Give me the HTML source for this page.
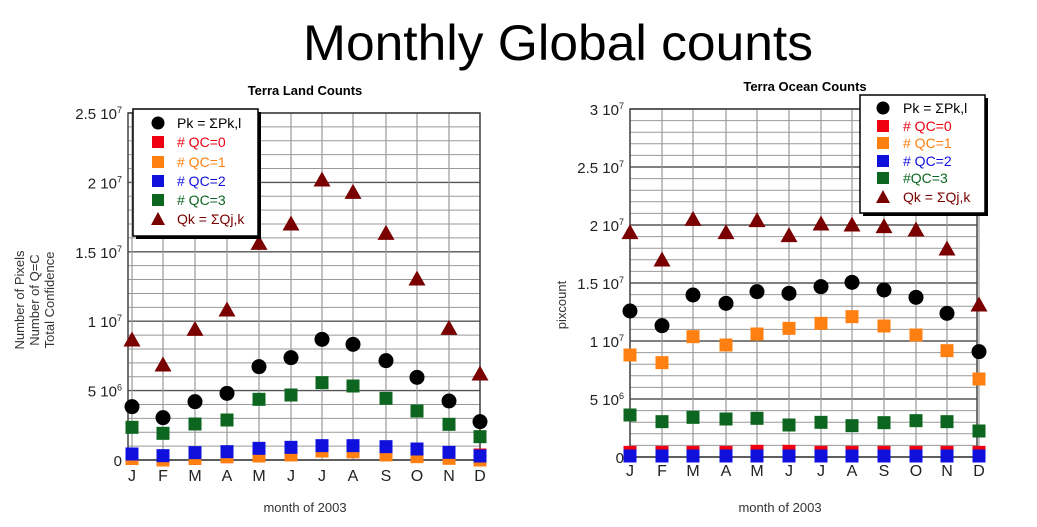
<!DOCTYPE html>
<html><head><meta charset="utf-8"><style>
html,body{margin:0;padding:0;background:#fff;}
svg{display:block;font-family:"Liberation Sans",Arial,sans-serif;}
</style></head><body>
<svg id="s" width="1037" height="527" viewBox="0 0 1037 527" xmlns="http://www.w3.org/2000/svg">
<text x="303" y="60" font-size="50" textLength="510" lengthAdjust="spacingAndGlyphs">Monthly Global counts</text>
<text x="305" y="95" font-size="13" font-weight="bold" text-anchor="middle">Terra Land Counts</text>
<text x="805" y="91" font-size="13" font-weight="bold" text-anchor="middle">Terra Ocean Counts</text>
<text x="305" y="512" font-size="13" text-anchor="middle" fill="#333">month of 2003</text>
<text x="780" y="512" font-size="13" text-anchor="middle" fill="#333">month of 2003</text>
<g font-size="13" fill="#333" text-anchor="middle">
<text transform="translate(24,300) rotate(-90)">Number of Pixels</text>
<text transform="translate(39,300) rotate(-90)">Number of Q=C</text>
<text transform="translate(54,300) rotate(-90)">Total Confidence</text>
<text transform="translate(566,305) rotate(-90)">pixcount</text>
</g>
<g id="L"></g><g id="R"></g>
</svg>
<script>
var NS="http://www.w3.org/2000/svg";
function el(p,t,a,txt){var e=document.createElementNS(NS,t);for(var k in a)e.setAttribute(k,a[k]);if(txt!==undefined)e.textContent=txt;p.appendChild(e);return e;}
var M=["J","F","M","A","M","J","J","A","S","O","N","D"];
function chart(g,c){
 var y0=c.y0,yt=c.yt,n=c.nmaj*5,step=(y0-yt)/n;
 for(var i=0;i<=n;i++){var y=y0-i*step;el(g,"line",{x1:c.x0,x2:c.x1,y1:y,y2:y,stroke:i%5==0?"#555":"#999","stroke-width":i%5==0?1.4:1});}
 for(var i=0;i<12;i++){el(g,"line",{x1:c.mx[i],x2:c.mx[i],y1:yt,y2:y0,stroke:"#999","stroke-width":1.2});
  el(g,"text",{x:c.mx[i],y:c.my,"font-size":16,"text-anchor":"middle",fill:"#222"},M[i]);}
 el(g,"rect",{x:c.x0,y:yt,width:c.x1-c.x0,height:y0-yt,fill:"none",stroke:"#444","stroke-width":1.5});
 for(var i=0;i<c.lab.length;i++){var y=y0-i*5*step;var t=el(g,"text",{x:c.x0-6,y:y+6,"font-size":15,"text-anchor":"end",fill:"#222"});
  var L=c.lab[i];t.textContent=L[0];if(L[1]){var s=el(t,"tspan",{"font-size":9,dy:-6},L[1]);}}
 var z=function(v){return v/3+80;};
 function sq(x,y,col,h){h=h||6.5;el(g,"rect",{x:x-h,y:y-h,width:2*h,height:2*h,fill:col});}
 c.series.forEach(function(s){for(var i=0;i<12;i++){var x=c.mx[i],y=z(s.d[i]);
  if(s.t=="c")el(g,"circle",{cx:x,cy:y,r:7.5,fill:"#000"});
  else if(s.t=="s")sq(x,y,s.c);
  else el(g,"polygon",{points:(x-8.5)+","+(y+6.5)+" "+x+","+(y-8.5)+" "+(x+8.5)+","+(y+6.5),fill:"#7a0000"});}});
 var lg=c.lg;
 el(g,"rect",{x:lg.x+3,y:lg.y+3,width:lg.w,height:lg.h,fill:"#000"});
 el(g,"rect",{x:lg.x,y:lg.y,width:lg.w,height:lg.h,fill:"#fff",stroke:"#000","stroke-width":1.5});
 var items=[["c","#000","Pk = ΣPk,l"],["s","#ee0011","# QC=0"],["s","#ff7f11","# QC=1"],["s","#1010dd","# QC=2"],["s","#0c6620",c.q3],["t","#7a0000","Qk = ΣQj,k"]];
 items.forEach(function(it,i){var y=lg.rows[i],x=lg.mx;
  if(it[0]=="c")el(g,"circle",{cx:x,cy:y,r:6.5,fill:"#000"});else if(it[0]=="s")sq(x,y,it[1],6);
  else el(g,"polygon",{points:(x-7)+","+(y+6)+" "+x+","+(y-7)+" "+(x+7)+","+(y+6),fill:"#7a0000"});
  el(g,"text",{x:lg.tx,y:y+5,"font-size":14,fill:it[1]},it[2]);});
}
chart(document.getElementById("L"),{x0:128,x1:480,y0:460,yt:113,nmaj:5,my:481,
 mx:[132,163,195,227,259,291,322,353,386,417,449,480],
 lab:[["0"],["5 10","6"],["1 10","7"],["1.5 10","7"],["2 10","7"],["2.5 10","7"]],
 series:[
 {t:"s",c:"#ee0011",d:[1135,1140,1135,1130,1128,1125,1113,1115,1125,1120,1122,1125]},
 {t:"s",c:"#ff7f11",d:[1135,1140,1135,1130,1128,1125,1113,1115,1125,1130,1135,1140]},
 {t:"s",c:"#1010dd",d:[1122,1127,1118,1115,1105,1102,1097,1097,1100,1107,1117,1128]},
 {t:"s",c:"#0c6620",d:[1042,1060,1032,1020,958,945,908,918,955,993,1033,1070]},
 {t:"c",d:[980,1013,965,940,860,833,778,793,842,892,963,1025]},
 {t:"t",d:[780,855,748,690,490,432,300,337,460,597,745,882]}],
 q3:"# QC=3",
 lg:{x:133,y:109,w:125,h:127,mx:158,tx:177,rows:[123,142,162,181,200,219]}});
chart(document.getElementById("R"),{x0:630,x1:977,y0:457,yt:109,nmaj:6,my:476,
 mx:[630,662,693,726,757,789,821,852,884,916,947,979],
 lab:[["0"],["5 10","6"],["1 10","7"],["1.5 10","7"],["2 10","7"],["2.5 10","7"],["3 10","7"]],
 series:[
 {t:"s",c:"#ee0011",d:[1117,1117,1117,1117,1114,1114,1117,1117,1117,1117,1117,1117]},
 {t:"s",c:"#ff7f11",d:[825,848,770,795,762,745,730,710,738,765,812,897]},
 {t:"s",c:"#1010dd",d:[1128,1128,1128,1128,1128,1128,1128,1128,1128,1128,1128,1128]},
 {t:"s",c:"#0c6620",d:[1005,1025,1012,1017,1015,1035,1027,1037,1028,1022,1025,1053]},
 {t:"c",d:[693,737,645,670,635,640,620,607,630,652,700,815]},
 {t:"t",d:[458,540,418,458,422,467,432,435,440,450,507,675]}],
 q3:"#QC=3",
 lg:{x:860,y:95,w:125,h:118,mx:883,tx:903,rows:[108,126,143,161,178,197]}});
</script>
</body></html>
